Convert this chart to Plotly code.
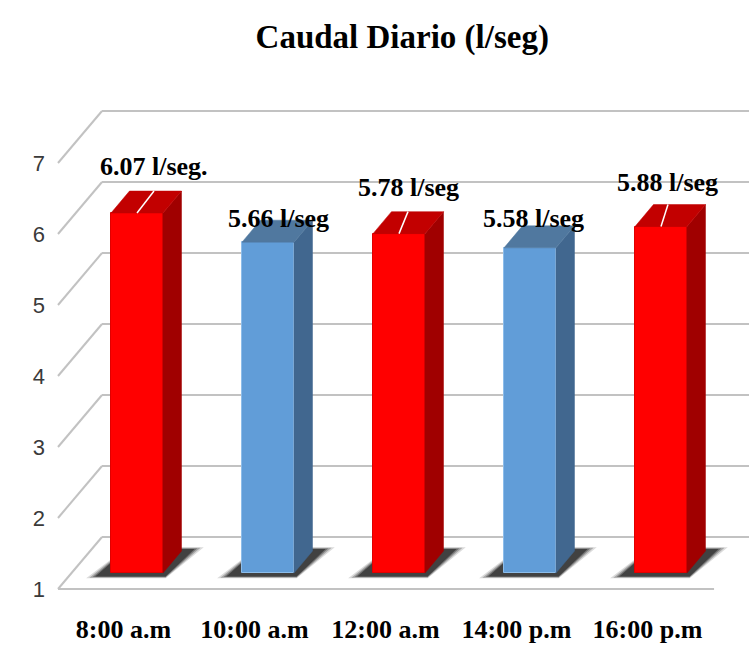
import plotly.graph_objects as go

# ---- data -------------------------------------------------------------
categories = ["8:00 a.m", "10:00 a.m", "12:00 a.m", "14:00 p.m", "16:00 p.m"]
caudal = [6.07, 5.66, 5.78, 5.58, 5.88]
value_labels = ["6.07 l/seg.", "5.66 l/seg", "5.78 l/seg", "5.58 l/seg", "5.88 l/seg"]
y_ticks = [1, 2, 3, 4, 5, 6, 7]

# ---- styling ----------------------------------------------------------
FLOOR = 1
PALETTE = {
    "red": dict(front="#ff0000", side="#a00000", top="#c20000", edge="#e00000"),
    "blue": dict(front="#619dd8", side="#41678f", top="#50789f", edge="#8dbdea"),
}
bar_style = ["red", "blue", "red", "blue", "red"]
label_dx_px = [17, 10, 9, 3, 7]      # horizontal nudge of each value label
label_dy_px = [47, 24, 46, 29, 44]   # vertical nudge of each value label
show_leader = [True, False, True, False, True]

PX_X = 131.0   # pixels per category step
PX_Y = 71.0    # pixels per value unit

# oblique projection (data units)
BAR_W = 52 / PX_X
BAR_DX, BAR_DY = 18.5 / PX_X, 22 / PX_Y          # depth of a bar
WALL_DX, WALL_DY = 44 / PX_X, 52 / PX_Y          # depth of the floor / side wall
FRONT_DX, FRONT_DY = -13.5 / PX_X, -16 / PX_Y     # front plane relative to bar plane
WALL_X0, WALL_X1 = -0.603, 4.405                  # front edge of floor, left / right

GRID = "#c2c2c2"
fig = go.Figure()

# ---- walls and gridlines (front-plane frame, primary y) ---------------
gx, gy = [], []
for v in y_ticks:
    # side wall diagonal
    gx += [WALL_X0, WALL_X0 + WALL_DX, None]
    gy += [v, v + WALL_DY, None]
    # back wall line
    gx += [WALL_X0 + WALL_DX, WALL_X1 + WALL_DX + 0.2, None]
    gy += [v + WALL_DY, v + WALL_DY, None]
# front edge of the floor
gx += [WALL_X0, WALL_X1]
gy += [FLOOR, FLOOR]
fig.add_trace(go.Scatter(x=gx, y=gy, mode="lines", xaxis="x", yaxis="y",
                         line=dict(color=GRID, width=2), hoverinfo="skip",
                         showlegend=False))

# ---- floor shadows (soft, layered) --------------------------------------
shapes = []
for i, v in enumerate(caudal):
    xl, xr = i - BAR_W / 2, i + BAR_W / 2
    for spread, alpha in [(0.07, 0.15), (0.045, 0.25), (0.02, 0.35), (0.0, 0.5)]:
        path = (f"M {xl - 0.12 - spread},{FLOOR - 0.05 - spread / 3} "
                f"L {xr + 0.02},{FLOOR - 0.05 - spread / 3} "
                f"L {xr + BAR_DX + 0.10 + spread},{FLOOR + BAR_DY + 0.03 + spread / 3} "
                f"L {xl + BAR_DX - 0.02},{FLOOR + BAR_DY + 0.03 + spread / 3} Z")
        shapes.append(dict(type="path", path=path, xref="x", yref="y2",
                           fillcolor=f"rgba(15,15,15,{alpha})",
                           line=dict(width=0), layer="below"))

# ---- bar front faces ----------------------------------------------------
fig.add_trace(go.Bar(
    x=list(range(len(categories))),
    y=[v - FLOOR for v in caudal],
    base=FLOOR,
    width=BAR_W,
    xaxis="x", yaxis="y2",
    marker=dict(color=[PALETTE[s]["front"] for s in bar_style],
                line=dict(color=[PALETTE[s]["edge"] for s in bar_style], width=1)),
    customdata=caudal,
    hovertemplate="%{customdata} l/seg<extra></extra>",
    showlegend=False,
))

# ---- bar side and top faces --------------------------------------------
for i, v in enumerate(caudal):
    pal = PALETTE[bar_style[i]]
    xl, xr = i - BAR_W / 2, i + BAR_W / 2
    fig.add_trace(go.Scatter(
        x=[xr, xr + BAR_DX, xr + BAR_DX, xr, xr],
        y=[FLOOR, FLOOR + BAR_DY, v + BAR_DY, v, FLOOR],
        fill="toself", fillcolor=pal["side"], mode="lines",
        line=dict(color=pal["side"], width=0.5),
        xaxis="x", yaxis="y2", hoverinfo="skip", showlegend=False))
    fig.add_trace(go.Scatter(
        x=[xl, xr, xr + BAR_DX, xl + BAR_DX, xl],
        y=[v, v, v + BAR_DY, v + BAR_DY, v],
        fill="toself", fillcolor=pal["top"], mode="lines",
        line=dict(color=pal["top"], width=0.5),
        xaxis="x", yaxis="y2", hoverinfo="skip", showlegend=False))

# ---- leader lines from labels to bar tops -----------------------------
lx, ly = [], []
for i, v in enumerate(caudal):
    if show_leader[i]:
        lx += [i + label_dx_px[i] / PX_X, i, None]
        ly += [v + BAR_DY, v, None]
fig.add_trace(go.Scatter(x=lx, y=ly, mode="lines", xaxis="x", yaxis="y2",
                         line=dict(color="white", width=1.5),
                         hoverinfo="skip", showlegend=False))

# ---- value labels ------------------------------------------------------
serif_bold = dict(family="Liberation Serif, Times New Roman, serif",
                  color="#000000", weight="bold")

annotations = []
for i, v in enumerate(caudal):
    annotations.append(dict(
        x=i, y=v, xref="x", yref="y2", text=value_labels[i],
        showarrow=False, xanchor="center", yanchor="middle",
        xshift=label_dx_px[i], yshift=label_dy_px[i],
        font=dict(size=26, **serif_bold)))

fig.update_layout(
    width=749, height=650,
    margin=dict(l=50, r=0, t=80, b=50),
    paper_bgcolor="white", plot_bgcolor="white",
    bargap=0,
    title=dict(text="Caudal Diario (l/seg)", x=0.537, xanchor="center",
               xref="container", yref="container", y=1 - 36 / 650,
               yanchor="middle", font=dict(size=33, **serif_bold)),
    xaxis=dict(range=[-0.6641, 4.6718], showgrid=False, zeroline=False,
               showline=False, ticks="",
               tickvals=[i + FRONT_DX for i in range(len(categories))],
               ticktext=categories, ticklabelstandoff=11,
               tickfont=dict(size=26, **serif_bold)),
    yaxis=dict(range=[0.845, 8.169], showgrid=False, zeroline=False,
               showline=False, ticks="", tickvals=y_ticks,
               ticklabelstandoff=4,
               tickfont=dict(family="Liberation Sans Narrow, Liberation Sans, sans-serif",
                             size=22, color="#3a3a3a")),
    yaxis2=dict(range=[0.620, 7.944], overlaying="y", visible=False,
                showgrid=False, zeroline=False),
    shapes=shapes,
    annotations=annotations,
)

fig.write_html("out.html")
